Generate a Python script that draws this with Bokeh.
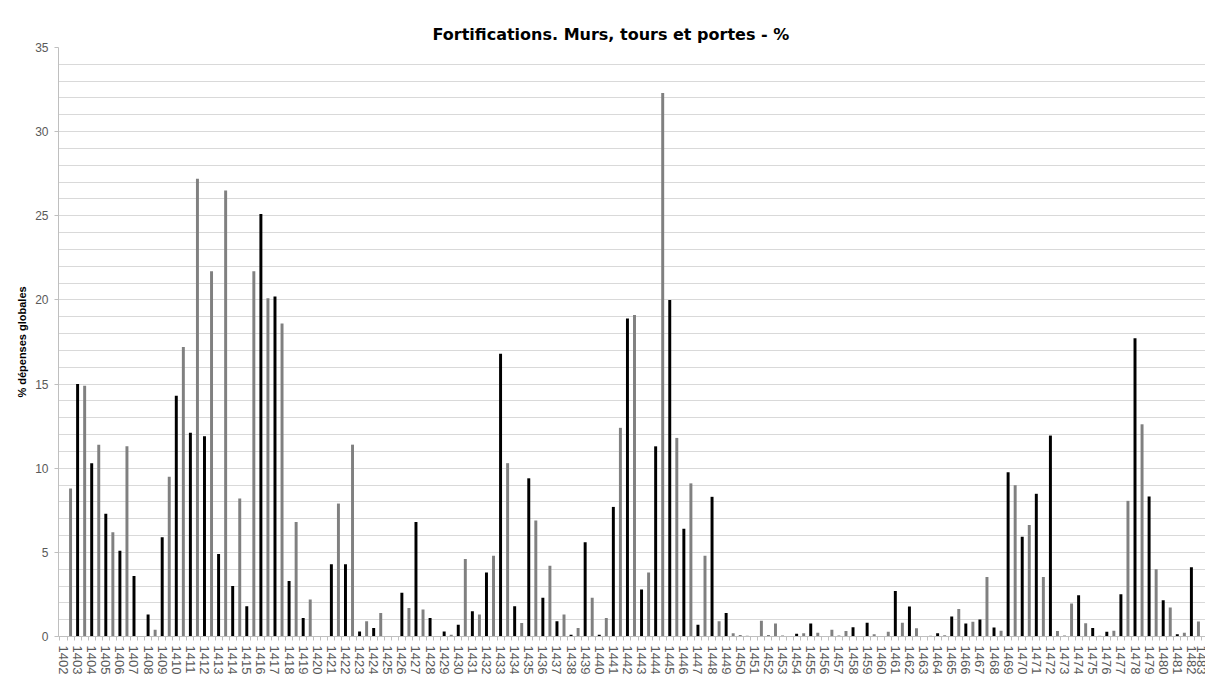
from bokeh.plotting import figure
from bokeh.models import Range1d, FixedTicker, SingleIntervalTicker, BoxAnnotation
from bokeh.embed import file_html
from bokeh.resources import INLINE

# ---- data -------------------------------------------------------------
years = list(range(1402, 1483))
tick_years = list(range(1402, 1484))

# black bar of each year
black_vals = [
    0.0, 15.0, 10.3, 7.3, 5.1, 3.6, 1.3, 5.9, 14.3, 12.1,      # 1402-1411
    11.9, 4.9, 3.0, 1.8, 25.1, 20.2, 3.3, 1.1, 0.0, 4.3,       # 1412-1421
    4.3, 0.3, 0.5, 0.0, 2.6, 6.8, 1.1, 0.3, 0.7, 1.5,          # 1422-1431
    3.8, 16.8, 1.8, 9.4, 2.3, 0.9, 0.1, 5.6, 0.1, 7.7,         # 1432-1441
    18.9, 2.8, 11.3, 20.0, 6.4, 0.7, 8.3, 1.4, 0.06, 0.0,      # 1442-1451
    0.06, 0.04, 0.16, 0.77, 0.0, 0.04, 0.55, 0.81, 0.0, 2.71,  # 1452-1461
    1.78, 0.0, 0.2, 1.19, 0.77, 1.01, 0.53, 9.76, 5.93, 8.48,  # 1462-1471
    11.94, 0.04, 2.45, 0.51, 0.28, 2.51, 17.73, 8.32, 2.15, 0.14,  # 1472-1481
    4.11,                                                      # 1482
]

# grey bar, half a year later
grey_vals = [
    8.8, 14.9, 11.4, 6.2, 11.3, 0.0, 0.4, 9.5, 17.2, 27.2,     # 1402-1411
    21.7, 26.5, 8.2, 21.7, 20.1, 18.6, 6.8, 2.2, 0.0, 7.9,     # 1412-1421
    11.4, 0.9, 1.4, 0.0, 1.7, 1.6, 0.0, 0.1, 4.6, 1.3,         # 1422-1431
    4.8, 10.3, 0.8, 6.9, 4.2, 1.3, 0.5, 2.3, 1.1, 12.4,        # 1432-1441
    19.1, 3.8, 32.3, 11.8, 9.1, 4.8, 0.9, 0.2, 0.04, 0.93,     # 1442-1451
    0.77, 0.0, 0.2, 0.22, 0.4, 0.32, 0.0, 0.14, 0.28, 0.81,    # 1452-1461
    0.49, 0.04, 0.08, 1.64, 0.87, 3.54, 0.34, 8.99, 6.62, 3.54,  # 1462-1471
    0.32, 1.96, 0.79, 0.04, 0.34, 8.06, 12.61, 3.99, 1.72, 0.22,  # 1472-1481
    0.89,                                                      # 1482
]

title_text = "Fortifications. Murs, tours et portes - %"
y_label = "% dépenses globales"

# ---- figure -----------------------------------------------------------
p = figure(
    width=1205, height=677,
    output_backend="svg", toolbar_location=None,
    x_range=Range1d(1401.645, 1483.0),
    y_range=Range1d(0, 35),
    min_border_left=58, min_border_right=0,
    min_border_top=47, min_border_bottom=40,
    background_fill_color="white", border_fill_color="white",
)
p.outline_line_color = None

# light chart-area border (its right and bottom edges run off the page)
p.add_layout(BoxAnnotation(
    left=10, right=1400, top=11, bottom=1000,
    left_units="canvas", right_units="canvas",
    top_units="canvas", bottom_units="canvas",
    fill_color=None, line_color="#d9d9d9", line_width=1,
))

p.title.text = title_text
p.title.align = "left"
p.title.offset = 374
p.title.text_font = "DejaVu Sans"
p.title.text_font_style = "bold"
p.title.text_font_size = "16px"
p.title.text_color = "#000000"
p.title.standoff = 8

p.vbar(x=years, top=black_vals, width=0.21, fill_color="#000000", line_color=None)
p.vbar(x=[y + 0.5 for y in years], top=grey_vals, width=0.21,
       fill_color="#808080", line_color=None)

# x axis
p.xgrid.visible = False
p.xaxis.ticker = FixedTicker(
    ticks=tick_years,
    minor_ticks=sorted([y - 0.25 for y in tick_years] + [y + 0.25 for y in tick_years]),
)
p.xaxis.major_label_orientation = "vertical"
p.xaxis.major_label_text_font = "Liberation Sans"
p.xaxis.major_label_text_font_size = "13px"
p.xaxis.major_label_text_color = "#595959"
p.xaxis.axis_line_color = "#bfbfbf"
p.xaxis.major_tick_line_color = None
p.xaxis.major_tick_out = 4
p.xaxis.major_tick_in = 0
p.xaxis.minor_tick_line_color = "#bfbfbf"
p.xaxis.minor_tick_out = 4
p.xaxis.minor_tick_in = 0
p.xaxis.major_label_standoff = 5

# y axis
yt = SingleIntervalTicker(interval=5, num_minor_ticks=5)
p.yaxis.ticker = yt
p.ygrid.ticker = yt
p.ygrid.grid_line_color = "#d9d9d9"
p.ygrid.minor_grid_line_color = "#d9d9d9"
p.yaxis.axis_line_color = "#bfbfbf"
p.yaxis.major_tick_line_color = "#bfbfbf"
p.yaxis.major_tick_out = 4
p.yaxis.major_tick_in = 0
p.yaxis.minor_tick_line_color = None
p.yaxis.major_label_standoff = 6
p.yaxis.major_label_text_font = "Liberation Sans"
p.yaxis.major_label_text_font_size = "12px"
p.yaxis.major_label_text_color = "#595959"
p.yaxis.axis_label = y_label
p.yaxis.axis_label_text_font = "Liberation Sans"
p.yaxis.axis_label_text_font_style = "bold"
p.yaxis.axis_label_text_font_size = "11px"
p.yaxis.axis_label_text_color = "#000000"
p.yaxis.axis_label_standoff = 4

open("out.html", "w").write(file_html(p, INLINE))
